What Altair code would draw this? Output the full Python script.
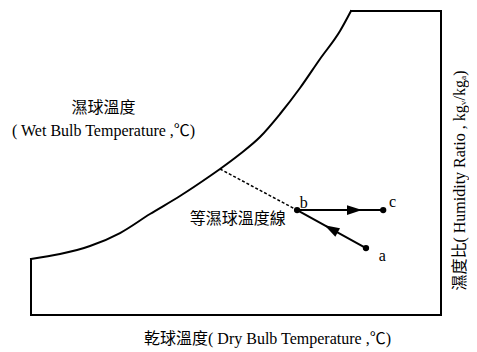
import math
import altair as alt
import pandas as pd

# ---- data (schematic psychrometric chart, arbitrary units 0..100) ----
# saturation curve (dry-bulb vs humidity ratio)
curve_x = [0.0, 7.07, 14.39, 21.71, 29.02, 36.34, 43.66, 46.10, 50.98, 55.85,
           60.73, 65.61, 70.49, 75.37, 78.05]
curve_y = [18.42, 20.07, 22.70, 26.97, 33.22, 39.14, 45.72, 48.03, 52.96, 58.55,
           66.12, 74.67, 84.21, 93.42, 100.0]

# chart boundary (from top end of curve, round the box, to bottom end of curve)
box_x = [78.05, 100.0, 100.0, 0.0, 0.0]
box_y = [100.0, 100.0, 0.0, 0.0, 18.42]

# process states
state_names = ["a", "b", "c"]
state_x = [81.7, 64.9, 85.9]
state_y = [22.0, 34.5, 34.5]

# constant wet-bulb line meets saturation curve here
wb_sat_x = 46.10
wb_sat_y = 48.03

# annotation texts
ann_text = ["濕球溫度", "( Wet Bulb Temperature ,℃)", "等濕球溫度線", "b", "c", "a"]
ann_x = [17.7, 17.7, 50.4, 66.5, 88.2, 85.7]
ann_y = [68.1, 60.5, 31.7, 36.8, 37.2, 19.4]

x_title = "乾球溫度( Dry Bulb Temperature ,℃)"
y_title = "濕度比( Humidity Ratio , kgᵥ/kgₐ)"

# ---- layout ----
W, H = 410, 304
FONT = "Liberation Serif, Noto Sans CJK TC, DejaVu Serif"
FS = 16

curve_df = pd.DataFrame({"x": curve_x, "y": curve_y, "o": range(len(curve_x))})
box_df = pd.DataFrame({"x": box_x, "y": box_y, "o": range(len(box_x))})
states = dict(zip(state_names, zip(state_x, state_y)))
pts_df = pd.DataFrame({"x": state_x, "y": state_y})

seg_df = pd.DataFrame({
    "x": [states["a"][0], states["b"][0]],
    "y": [states["a"][1], states["b"][1]],
    "x2": [states["b"][0], states["c"][0]],
    "y2": [states["b"][1], states["c"][1]],
    "f": [0.506, 0.667],
})
seg_df["hx"] = seg_df["x"] + seg_df["f"] * (seg_df["x2"] - seg_df["x"])
seg_df["hy"] = seg_df["y"] + seg_df["f"] * (seg_df["y2"] - seg_df["y"])
seg_df["ang"] = [
    (math.degrees(math.atan2(-(r.y2 - r.y) * H / 100, (r.x2 - r.x) * W / 100)) + 360) % 360
    for r in seg_df.itertuples()
]

dash_df = pd.DataFrame({"x": [wb_sat_x], "y": [wb_sat_y],
                        "x2": [states["b"][0]], "y2": [states["b"][1]]})
ann_df = pd.DataFrame({"t": ann_text, "x": ann_x, "y": ann_y})

xs = alt.Scale(domain=[0, 100], nice=False, zero=False)
ys = alt.Scale(domain=[0, 100], nice=False, zero=False)

x_axis = alt.Axis(domain=False, ticks=False, labels=False, grid=False,
                  title=x_title, titleFont=FONT, titleFontSize=FS,
                  titleFontWeight="normal", titleColor="black",
                  titleX=236, titleY=23, titleAlign="center", titleBaseline="middle")
y_axis = alt.Axis(orient="right", domain=False, ticks=False, labels=False, grid=False,
                  title=y_title, titleFont=FONT, titleFontSize=FS,
                  titleFontWeight="normal", titleColor="black",
                  titleAngle=270, titleX=18, titleY=169,
                  titleAlign="center", titleBaseline="middle")


def X(field="x"):
    return alt.X(f"{field}:Q", scale=xs, axis=x_axis)


def Y(field="y"):
    return alt.Y(f"{field}:Q", scale=ys, axis=y_axis)


box = alt.Chart(box_df).mark_line(color="black", strokeWidth=2, strokeCap="square",
                                  strokeJoin="miter").encode(x=X(), y=Y(), order="o:Q")
curve = alt.Chart(curve_df).mark_line(color="black", strokeWidth=2, interpolate="monotone",
                                      strokeCap="square").encode(x=X(), y=Y(), order="o:Q")
dashed = alt.Chart(dash_df).mark_rule(color="black", strokeWidth=1.5, strokeDash=[3, 2]).encode(
    x=X(), y=Y(), x2="x2:Q", y2="y2:Q")
segs = alt.Chart(seg_df).mark_rule(color="black", strokeWidth=2).encode(
    x=X(), y=Y(), x2="x2:Q", y2="y2:Q")
heads = alt.Chart(seg_df).mark_point(shape="M-1,-0.65L1,0L-1,0.65Z", filled=True, size=225,
                                     color="black", opacity=1, strokeWidth=0).encode(
    x=X("hx"), y=Y("hy"), angle=alt.Angle("ang:Q", scale=None))
dots = alt.Chart(pts_df).mark_circle(color="black", size=40, opacity=1).encode(x=X(), y=Y())
texts = alt.Chart(ann_df).mark_text(font=FONT, fontSize=FS, color="black",
                                    align="center", baseline="middle").encode(
    x=X(), y=Y(), text="t:N")

chart = alt.layer(box, curve, dashed, segs, heads, dots, texts).properties(
    width=W, height=H,
    autosize=alt.AutoSizeParams(type="none"),
    padding={"left": 23, "top": 3, "right": 28, "bottom": 33},
).configure_view(stroke=None)

chart.save("out.html", embed_options={"renderer": "svg", "actions": False})
